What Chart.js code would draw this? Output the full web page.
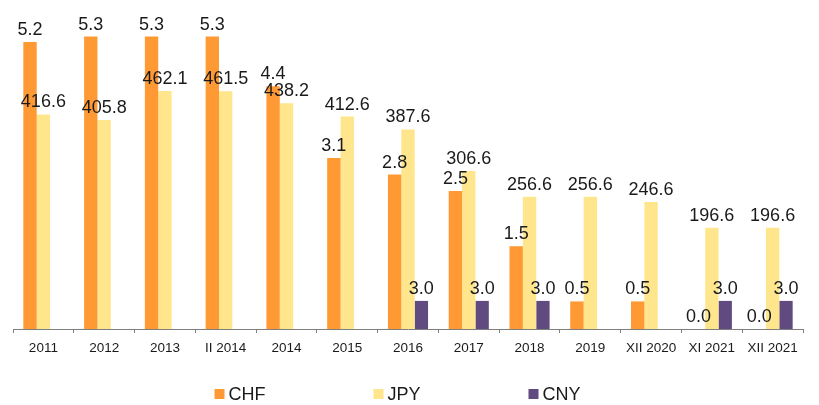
<!DOCTYPE html>
<html lang="pl">
<head>
<meta charset="UTF-8">
<title>CHF / JPY / CNY</title>
<style>
  body { margin: 0; background: #fff; }
  #wrap { width: 819px; height: 405px; }
</style>
</head>
<body>
<div id="wrap"><canvas id="myChart"></canvas></div>

<script src="https://cdn.jsdelivr.net/npm/chart.js"></script>
<script>
const labels = ['2011', '2012', '2013', 'II 2014', '2014', '2015', '2016', '2017', '2018', '2019', 'XII 2020', 'XI 2021', 'XII 2021'];
const chf = [5.2, 5.3, 5.3, 5.3, 4.4, 3.1, 2.8, 2.5, 1.5, 0.5, 0.5, 0.0, 0.0];
const jpy = [416.6, 405.8, 462.1, 461.5, 438.2, 412.6, 387.6, 306.6, 256.6, 256.6, 246.6, 196.6, 196.6];
const cny = [null, null, null, null, null, null, 3.0, 3.0, 3.0, null, null, 3.0, 3.0];

const FONT = '"Liberation Sans", Arial, sans-serif';
const TEXT = '#1a1a1a';

// value above each bar
const valueLabels = {
    id: 'valueLabels',
    afterDatasetsDraw(chart) {
        const ctx = chart.ctx;
        ctx.save();
        ctx.font = '18px ' + FONT;
        ctx.fillStyle = TEXT;
        ctx.textAlign = 'center';
        ctx.textBaseline = 'alphabetic';
        chart.data.datasets.forEach((ds, i) => {
            chart.getDatasetMeta(i).data.forEach((bar, j) => {
                const v = ds.data[j];
                if (v === null) return;
                ctx.fillText(v.toFixed(1), bar.x, bar.y - 7);
            });
        });
        ctx.restore();
    }
};

// legend row under the axis: small square + name
const bottomLegend = {
    id: 'bottomLegend',
    afterDraw(chart) {
        const ctx = chart.ctx;
        const gap = 108;
        ctx.save();
        ctx.font = '18px ' + FONT;
        ctx.textBaseline = 'alphabetic';
        const items = chart.data.datasets.map(ds => ({
            text: ds.label,
            color: ds.backgroundColor,
            w: 14 + ctx.measureText(ds.label).width
        }));
        const total = items.reduce((s, it) => s + it.w, 0) + gap * (items.length - 1);
        let x = chart.width / 2 - 12 - total / 2;
        const y = 389;
        items.forEach(it => {
            ctx.fillStyle = it.color;
            ctx.fillRect(x, y, 10, 10);
            ctx.fillStyle = TEXT;
            ctx.fillText(it.text, x + 14, y + 10.5);
            x += it.w + gap;
        });
        ctx.restore();
    }
};

const ctx = document.getElementById('myChart');

new Chart(ctx, {
    type: 'bar',
    data: {
        labels: labels,
        datasets: [
            { label: 'CHF', data: chf, backgroundColor: '#FF9933', yAxisID: 'yChf' },
            { label: 'JPY', data: jpy, backgroundColor: '#FFE68C', yAxisID: 'yJpy' },
            { label: 'CNY', data: cny, backgroundColor: '#604A80', yAxisID: 'yCny' },
        ]
    },
    options: {
        responsive: true,
        maintainAspectRatio: false,
        animation: false,
        events: [],
        layout: { padding: { left: 13, right: 16, top: 20, bottom: 46 } },
        datasets: {
            bar: { categoryPercentage: 0.66, barPercentage: 1.0 }
        },
        scales: {
            x: {
                grid: { display: true, drawOnChartArea: false, color: '#7f7f7f', tickLength: 4 },
                border: { display: true, color: '#7f7f7f', width: 1 },
                ticks: {
                    color: TEXT,
                    font: { family: FONT, size: 13.5 },
                    padding: 7,
                    maxRotation: 0,
                    autoSkip: false
                },
                afterFit(scale) { scale.height = 30; }
            },
            // three hidden value axes, one per currency
            yChf: { display: false, min: 0, max: 5.6 },
            yJpy: { display: false, min: 0, max: 600 },
            yCny: { display: false, min: 0, max: 33 }
        },
        plugins: {
            legend: { display: false },
            tooltip: { enabled: false }
        }
    },
    plugins: [valueLabels, bottomLegend]
});
</script>
</body>
</html>
